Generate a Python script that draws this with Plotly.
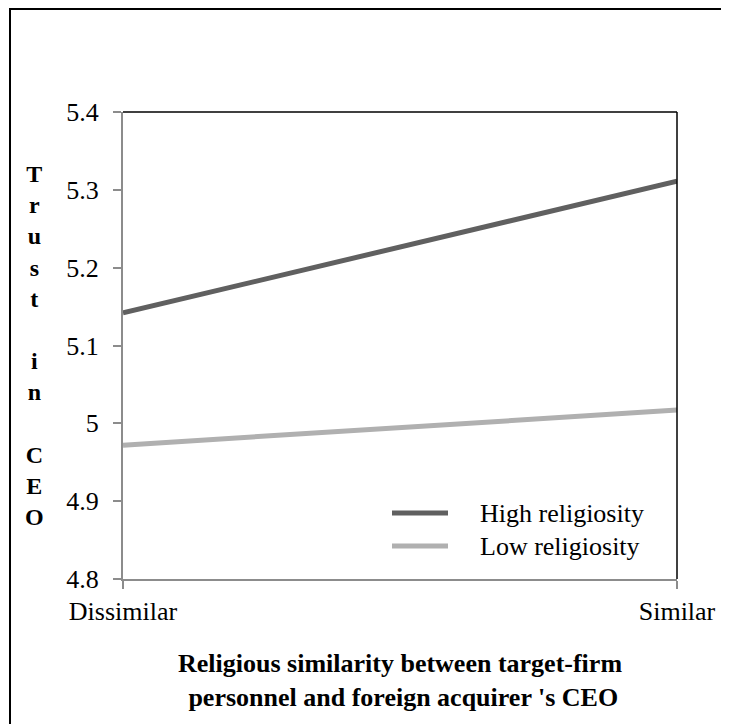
import plotly.graph_objects as go

# ---- data ----
x_labels = ["Dissimilar", "Similar"]
x_pos = [0, 1]
series_names = ["High religiosity", "Low religiosity"]
high_values = [5.142, 5.311]
low_values = [4.972, 5.017]
y_tickvals = [4.8, 4.9, 5.0, 5.1, 5.2, 5.3, 5.4]
y_ticktext = ["4.8", "4.9", "5", "5.1", "5.2", "5.3", "5.4"]
y_title_letters = ["T", "r", "u", "s", "t", "", "i", "n", "", "C", "E", "O"]
x_title_lines = ["Religious similarity between target-firm", " personnel and foreign acquirer 's CEO"]

# ---- layout geometry (page body has an 8px margin) ----
OFF = 8
W, H = 729 - OFF, 724 - OFF
L, R, T, B = 123 - OFF, 677 - OFF, 112 - OFF, 579 - OFF
pw, ph = R - L, B - T

def px(xp):
    return (xp - OFF - L) / pw

def py(yp):
    return (B - (yp - OFF)) / ph

colors = ["#606060", "#b0b0b0"]
FONT = "Liberation Serif"

fig = go.Figure()
for name, vals, col in zip(series_names, [high_values, low_values], colors):
    fig.add_trace(go.Scatter(x=x_pos, y=vals, mode="lines", name=name,
                             line=dict(color=col, width=5), showlegend=False))

shapes = [
    dict(type="line", xref="paper", yref="paper", x0=0, x1=1, y0=1, y1=1,
         line=dict(color="black", width=1.5)),
    dict(type="line", xref="paper", yref="paper", x0=1, x1=1, y0=0, y1=1,
         line=dict(color="black", width=1.5)),
    dict(type="rect", xref="paper", yref="paper", x0=px(10), x1=px(760),
         y0=py(760), y1=py(9), line=dict(color="black", width=2)),
]
annotations = []
for i, (name, col) in enumerate(zip(series_names, colors)):
    yy = 513 + 33 * i
    shapes.append(dict(type="line", xref="paper", yref="paper", x0=px(392), x1=px(448),
                       y0=py(yy), y1=py(yy), line=dict(color=col, width=5)))
    annotations.append(dict(xref="paper", yref="paper", x=px(478), y=py(yy), text=name,
                            showarrow=False, xanchor="left", yanchor="middle",
                            font=dict(family=FONT, size=26, color="black")))

annotations.append(dict(xref="paper", yref="paper", x=px(34), y=py(345),
                        text="<br>".join("<b>%s</b>" % l if l else " " for l in y_title_letters),
                        showarrow=False, xanchor="center", yanchor="middle", align="center",
                        font=dict(family=FONT, size=24, color="black")))
annotations.append(dict(xref="paper", yref="paper", x=px(400), y=py(680),
                        text="<br>".join("<b>%s</b>" % l for l in x_title_lines),
                        showarrow=False, xanchor="center", yanchor="middle", align="center",
                        font=dict(family=FONT, size=26, color="black")))

fig.update_layout(
    width=W, height=H,
    margin=dict(l=L, r=W - R, t=T, b=H - B, pad=0),
    paper_bgcolor="white", plot_bgcolor="white",
    font=dict(family=FONT, size=26, color="black"),
    shapes=shapes, annotations=annotations,
    xaxis=dict(range=[0, 1], tickvals=x_pos, ticktext=x_labels, showgrid=False,
               zeroline=False, showline=True, linecolor="#8c8c8c", linewidth=2,
               ticks="outside", ticklen=8, tickcolor="#8c8c8c", tickwidth=1.5,
               tickfont=dict(family=FONT, size=26, color="black")),
    yaxis=dict(range=[4.8, 5.4], tickvals=y_tickvals, ticktext=y_ticktext, showgrid=False,
               zeroline=False, showline=True, linecolor="#8c8c8c", linewidth=2,
               ticks="outside", ticklen=8, tickcolor="#8c8c8c", tickwidth=1.5,
               ticklabelstandoff=9,
               tickfont=dict(family=FONT, size=26, color="black")),
)

fig.write_html("out.html")
